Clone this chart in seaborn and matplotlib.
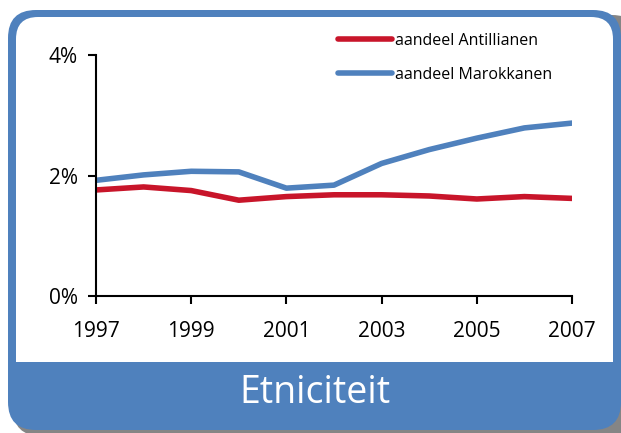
import matplotlib
matplotlib.use("Agg")
import matplotlib.pyplot as plt
from matplotlib.patches import FancyBboxPatch, Rectangle
import seaborn as sns
import pandas as pd

# data (share in %)
years = list(range(1997, 2008))
antillianen = [1.76, 1.81, 1.75, 1.59, 1.65, 1.68, 1.68, 1.66, 1.61, 1.65, 1.62]
marokkanen = [1.92, 2.01, 2.07, 2.06, 1.79, 1.84, 2.20, 2.43, 2.62, 2.79, 2.87]
series_names = ["aandeel Antillianen", "aandeel Marokkanen"]
x_ticks = [1997, 1999, 2001, 2003, 2005, 2007]
y_ticks = [0, 2, 4]
title = "Etniciteit"

RED = "#C8152A"
BLUE = "#4F81BD"
W, H = 621, 433

df = pd.DataFrame({
    "jaar": years * 2,
    "aandeel": antillianen + marokkanen,
    "groep": [series_names[0]] * len(years) + [series_names[1]] * len(years),
})

sns.set_style("ticks")
plt.rcParams["font.family"] = ["Open Sans", "DejaVu Sans"]
plt.rcParams["text.color"] = "black"
plt.rcParams["xtick.color"] = "black"
plt.rcParams["ytick.color"] = "black"

fig = plt.figure(figsize=(W / 100, H / 100), dpi=100)
fig.patch.set_facecolor("white")

# frame drawn in pixel coordinates on a background axes
bg = fig.add_axes([0, 0, 1, 1], zorder=-1)
bg.set_xlim(0, W)
bg.set_ylim(0, H)
bg.axis("off")


def box(x0, y0, x1, y1, color, r):
    # image coordinates (y down) -> axes coordinates (y up)
    p = FancyBboxPatch((x0, H - y1), x1 - x0, y1 - y0,
                       boxstyle=f"round,pad=0,rounding_size={r}",
                       fc=color, ec="none")
    bg.add_patch(p)


box(13, 15, 640, 436, "#858585", 28)   # shadow
box(8, 10, 621, 430, BLUE, 28)        # outer blue frame
box(16, 17, 613, 400, "white", 22)    # white panel
bg.add_patch(Rectangle((16, H - 430 + 25), 597, 430 - 25 - 362, fc=BLUE, ec="none"))
bg.text(315, H - 393, title, color="white", fontsize=27,
        ha="center", va="center")

# main chart
ax = fig.add_axes([96 / W, 1 - 296 / H, (572 - 96) / W, (296 - 55) / H])
ax.set_facecolor("none")
sns.lineplot(data=df, x="jaar", y="aandeel", hue="groep",
             palette=[RED, BLUE], linewidth=4, ax=ax)

ax.set_xlim(1997, 2007)
ax.set_ylim(0, 4)
ax.set_xticks(x_ticks)
ax.set_yticks(y_ticks)
ax.set_yticklabels([f"{v}%" for v in y_ticks])
ax.set_xlabel("")
ax.set_ylabel("")
for s in ["top", "right"]:
    ax.spines[s].set_visible(False)
for s in ["left", "bottom"]:
    ax.spines[s].set_linewidth(1.5)
    ax.spines[s].set_color("black")
ax.tick_params(axis="x", length=6, width=1.5, pad=12, labelsize=15, direction="out")
ax.tick_params(axis="y", length=6, width=1.5, pad=7, labelsize=15)

handles, labels = ax.get_legend_handles_labels()
ax.legend(handles, labels, frameon=False, fontsize=11.5,
          handlelength=3.4, handletextpad=0.15, labelspacing=1.1,
          loc="upper left", bbox_to_anchor=(338 / W, 1 - 33 / H),
          bbox_transform=fig.transFigure, borderaxespad=0, borderpad=0)

fig.savefig("out.png", dpi=100)
